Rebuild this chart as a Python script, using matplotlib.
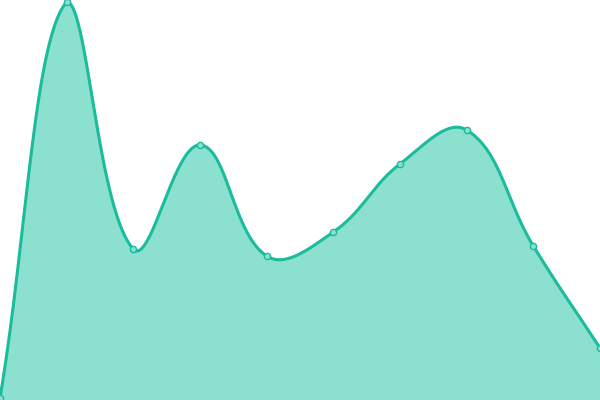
import numpy as np
import matplotlib
matplotlib.use("Agg")
import matplotlib.pyplot as plt

# values (y axis 0..400)
labels = ["1", "2", "3", "4", "5", "6", "7", "8", "9", "10"]
values = [2, 398, 151, 255, 144, 168, 236, 270, 154, 52]

line_color = "#1abc9c"
fill_color = "#8be0cf"
tension = 0.4

W, H = 600, 400
n = len(values)
xs = np.arange(n) * W / (n - 1)
ys = np.array(values, dtype=float)


def control_points(x, y, t):
    # same idea as the chart.js spline: tangents from neighbours, scaled by distance
    cps = []
    for i in range(len(x)):
        p0 = np.array([x[max(i - 1, 0)], y[max(i - 1, 0)]])
        p1 = np.array([x[i], y[i]])
        p2 = np.array([x[min(i + 1, len(x) - 1)], y[min(i + 1, len(x) - 1)]])
        d01 = np.hypot(*(p1 - p0))
        d12 = np.hypot(*(p2 - p1))
        tot = d01 + d12
        s01 = d01 / tot if tot else 0
        s12 = d12 / tot if tot else 0
        prev = p1 - t * s01 * (p2 - p0)
        nxt = p1 + t * s12 * (p2 - p0)
        # keep control points inside the drawing area
        prev = np.clip(prev, [0, 0], [W, H])
        nxt = np.clip(nxt, [0, 0], [W, H])
        cps.append((prev, nxt))
    return cps


cps = control_points(xs, ys, tension)
curve_x, curve_y = [], []
tt = np.linspace(0, 1, 60)
for i in range(n - 1):
    a = np.array([xs[i], ys[i]])
    b = cps[i][1]
    c = cps[i + 1][0]
    d = np.array([xs[i + 1], ys[i + 1]])
    seg = ((1 - tt) ** 3)[:, None] * a + (3 * (1 - tt) ** 2 * tt)[:, None] * b \
        + (3 * (1 - tt) * tt ** 2)[:, None] * c + (tt ** 3)[:, None] * d
    curve_x.extend(seg[:, 0])
    curve_y.extend(seg[:, 1])

fig = plt.figure(figsize=(6, 4), dpi=100)
ax = fig.add_axes([0, 0, 1, 1])
ax.fill_between(curve_x, 0, curve_y, color=fill_color, lw=0)
ax.plot(curve_x, curve_y, color=line_color, lw=2.2, solid_capstyle="round")
ax.plot(xs, ys, "o", ms=4.5, mfc=fill_color, mec=line_color, mew=1, clip_on=False)
ax.set_xlim(0, W)
ax.set_ylim(0, H)
ax.axis("off")
fig.savefig("out.png", dpi=100)
